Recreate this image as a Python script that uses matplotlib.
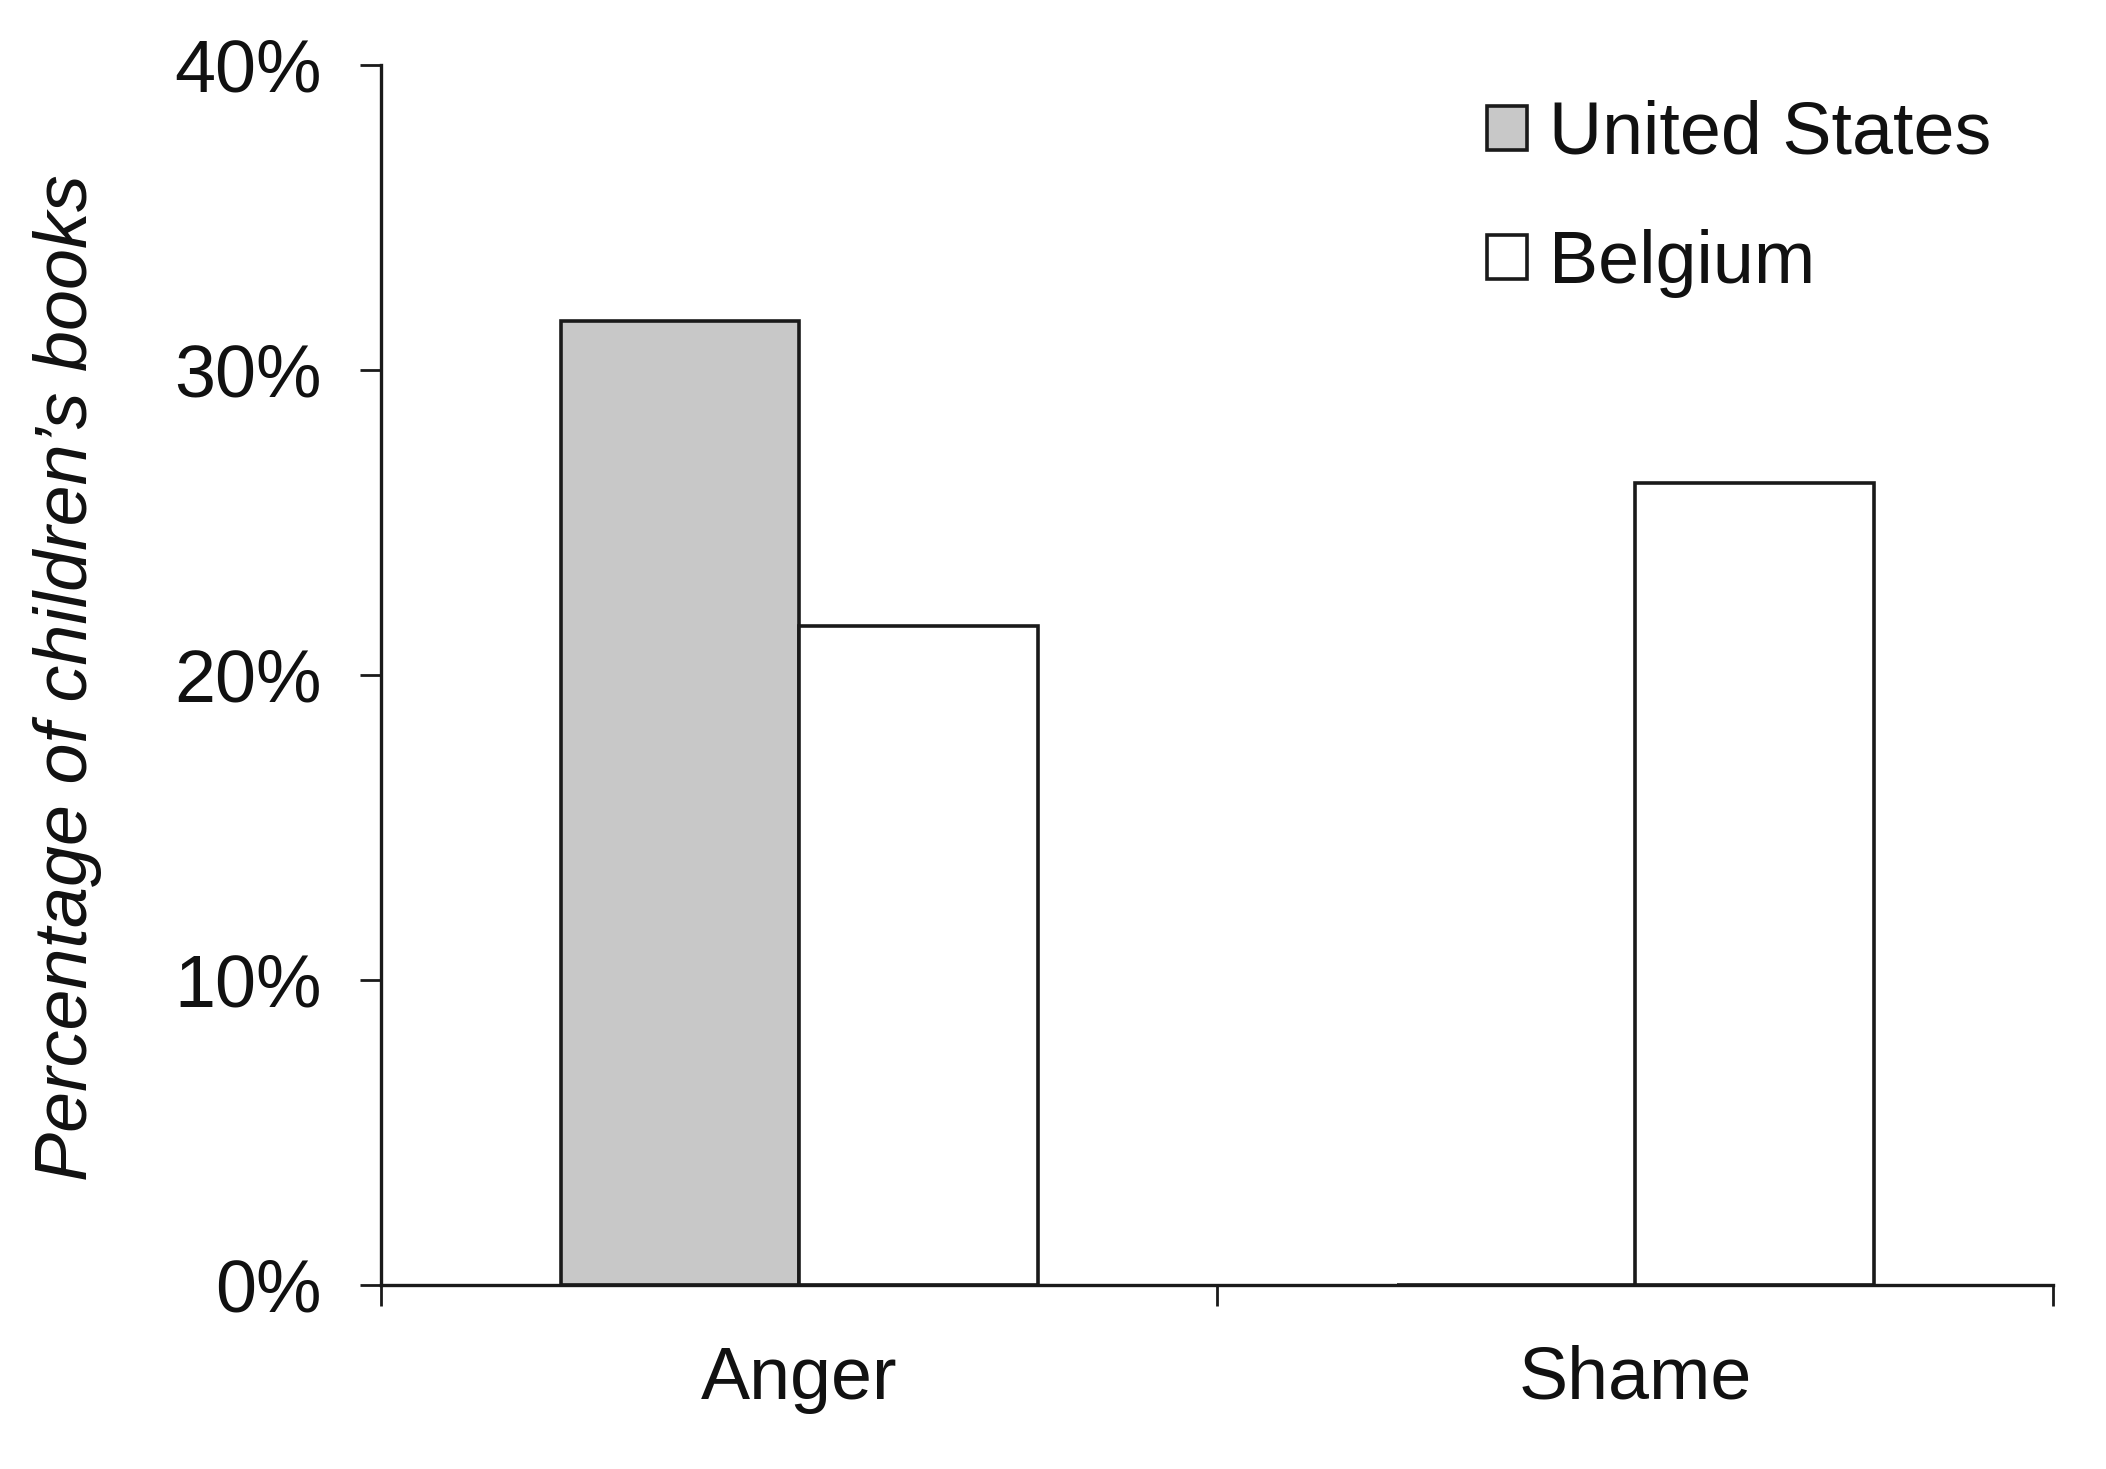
import matplotlib
matplotlib.use("Agg")
import matplotlib.pyplot as plt
import numpy as np
from matplotlib.patches import Patch
from matplotlib.ticker import FuncFormatter

categories = ["Anger", "Shame"]
series_names = ["United States", "Belgium"]
us_values = [31.6, 0.0]
belgium_values = [21.6, 26.3]
y_ticks = [0, 10, 20, 30, 40]

plt.rcParams['font.family'] = ['Liberation Sans', 'DejaVu Sans']

fig = plt.figure(figsize=(21.06, 14.69), dpi=100)
ax = fig.add_axes([0.181, 0.1253, 0.794, 0.8305])

x = np.arange(len(categories))
w = 0.285
edge = '#1a1a1a'
fs = 53
ax.bar(x - w / 2, us_values, width=w, color='#c8c8c8', edgecolor=edge, linewidth=2.6)
ax.bar(x + w / 2, belgium_values, width=w, color='white', edgecolor=edge, linewidth=2.6)

ax.set_xlim(-0.5, 1.5)
ax.set_ylim(0, 40)
ax.set_yticks(y_ticks)
ax.yaxis.set_major_formatter(FuncFormatter(lambda v, p: f"{int(v)}%"))
ax.set_xticks([-0.5, 0.5, 1.5])
ax.set_xticklabels([])
ax.set_xticks(x, minor=True)
ax.set_xticklabels(categories, minor=True)
ax.tick_params(axis='x', which='minor', length=0, pad=43, labelsize=fs, labelcolor='#111111')
ax.tick_params(axis='x', which='major', length=15, width=2, direction='out', color=edge)
ax.tick_params(axis='y', length=15, width=2, direction='out', color=edge, pad=28,
               labelsize=fs, labelcolor='#111111')

for s in ['top', 'right']:
    ax.spines[s].set_visible(False)
for s in ['left', 'bottom']:
    ax.spines[s].set_linewidth(2.4)
    ax.spines[s].set_color(edge)

fig.text(0.032, 0.539, "Percentage of children\u2019s books", fontsize=fs, style='italic',
         color='#111111', rotation=90, ha='center', va='center')

handles = [Patch(facecolor='#c8c8c8', edgecolor=edge, linewidth=2.6),
           Patch(facecolor='white', edgecolor=edge, linewidth=2.6)]
fig.legend(handles, series_names, loc='upper left', bbox_to_anchor=(0.706, 0.932),
           frameon=False, fontsize=fs, handlelength=0.55, handleheight=0.55,
           handletextpad=0.3, labelspacing=0.82, borderpad=0, borderaxespad=0,
           labelcolor='#111111')

fig.savefig("out.png", dpi=100, facecolor='white')
